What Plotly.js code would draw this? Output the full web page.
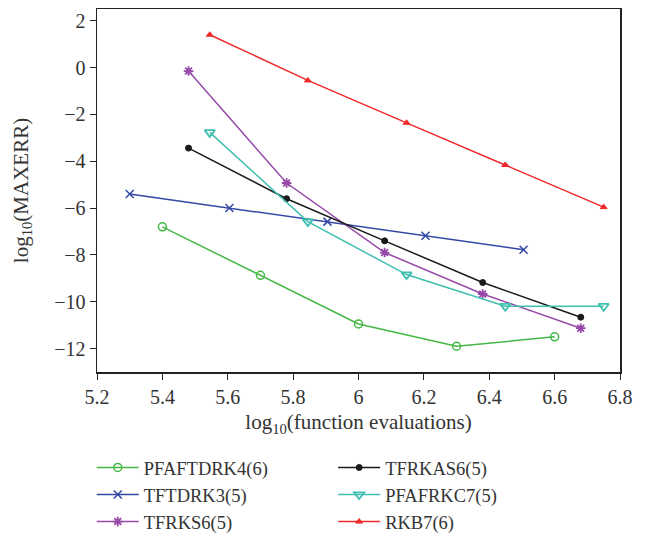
<!DOCTYPE html>
<html><head><meta charset="utf-8">
<script src="https://cdn.plot.ly/plotly-3.0.1.min.js"></script>
<style>body{margin:0;padding:0;background:#fff}</style>
</head><body>
<div id="chart" style="width:646px;height:533px"></div>
<script>
const namePFAFTDRK4 = "PFAFTDRK4(6)";
const xPFAFTDRK4 = [5.4, 5.7, 6.0, 6.3, 6.6];
const yPFAFTDRK4 = [-6.8, -8.87, -10.95, -11.9, -11.5];

const nameTFTDRK3 = "TFTDRK3(5)";
const xTFTDRK3 = [5.3, 5.605, 5.905, 6.205, 6.505];
const yTFTDRK3 = [-5.4, -6.0, -6.58, -7.18, -7.78];

const nameTFRKS6 = "TFRKS6(5)";
const xTFRKS6 = [5.48, 5.78, 6.08, 6.38, 6.68];
const yTFRKS6 = [-0.15, -4.93, -7.9, -9.67, -11.13];

const nameTFRKAS6 = "TFRKAS6(5)";
const xTFRKAS6 = [5.48, 5.78, 6.08, 6.38, 6.68];
const yTFRKAS6 = [-3.44, -5.6, -7.4, -9.18, -10.66];

const namePFAFRKC7 = "PFAFRKC7(5)";
const xPFAFRKC7 = [5.545, 5.845, 6.147, 6.449, 6.75];
const yPFAFRKC7 = [-2.77, -6.58, -8.84, -10.19, -10.19];

const nameRKB7 = "RKB7(6)";
const xRKB7 = [5.545, 5.845, 6.147, 6.449, 6.75];
const yRKB7 = [1.4, -0.55, -2.36, -4.16, -5.96];

const xTicks = [5.2, 5.4, 5.6, 5.8, 6, 6.2, 6.4, 6.6, 6.8];
const yTicks = [2, 0, -2, -4, -6, -8, -10, -12];

const serif = "Liberation Serif, DejaVu Serif, serif";
const txt = "#333";

function tr(name, x, y, color, symbol, size, lw, legend) {
  return {
    type: "scatter", mode: "lines+markers", name: name, x: x, y: y,
    line: {color: color, width: 1.5},
    marker: {symbol: symbol, size: size, color: color, line: {color: color, width: lw}},
    legend: legend
  };
}

const data = [
  tr(namePFAFTDRK4, xPFAFTDRK4, yPFAFTDRK4, "#44b844", "circle-open", 8, 1.5, "legend"),
  tr(nameTFTDRK3, xTFTDRK3, yTFTDRK3, "#3347a5", "x-thin-open", 8, 1.5, "legend"),
  tr(nameTFRKS6, xTFRKS6, yTFRKS6, "#9649a8", "asterisk-open", 8, 1.8, "legend"),
  tr(nameTFRKAS6, xTFRKAS6, yTFRKAS6, "#1a1a1a", "circle", 6, 1, "legend2"),
  tr(namePFAFRKC7, xPFAFRKC7, yPFAFRKC7, "#3fbfaf", "triangle-down-open", 9, 1.8, "legend2"),
  tr(nameRKB7, xRKB7, yRKB7, "#ee2a2a", "triangle-up", 6, 1, "legend2")
];

const legendCommon = {
  orientation: "v", xanchor: "left", yanchor: "top",
  font: {family: serif, size: 18.5, color: txt},
  bgcolor: "rgba(0,0,0,0)", itemwidth: 42, tracegroupgap: 0
};

const layout = {
  width: 646, height: 533,
  margin: {l: 97, r: 26, t: 9, b: 161, autoexpand: false},
  paper_bgcolor: "#fff", plot_bgcolor: "#fff",
  font: {family: serif, size: 20, color: txt},
  showlegend: true,
  xaxis: {
    range: [5.2, 6.8], tickvals: xTicks, ticktext: xTicks.map(String),
    showgrid: false, zeroline: false,
    showline: true, linecolor: "#222", linewidth: 1.5, mirror: true,
    ticks: "outside", ticklen: 6, tickcolor: "#222",
    tickfont: {family: serif, size: 20, color: txt},
    title: {text: "log<sub>10</sub>(function evaluations)", font: {family: serif, size: 21, color: txt}, standoff: 8}
  },
  yaxis: {
    range: [-13, 2.5], tickvals: yTicks, ticktext: yTicks.map(v => v < 0 ? "\u2212" + Math.abs(v) : String(v)),
    showgrid: false, zeroline: false,
    showline: true, linecolor: "#222", linewidth: 1.5, mirror: true,
    ticks: "outside", ticklen: 6, tickcolor: "#222",
    tickfont: {family: serif, size: 20, color: txt},
    title: {text: "log<sub>10</sub>(MAXERR)", font: {family: serif, size: 21, color: txt}, standoff: 20}
  },
  legend: Object.assign({x: -0.01, y: -0.212}, legendCommon),
  legend2: Object.assign({x: 0.4515, y: -0.212}, legendCommon)
};

Plotly.newPlot("chart", data, layout, {displayModeBar: false, staticPlot: true});
</script>
</body></html>
